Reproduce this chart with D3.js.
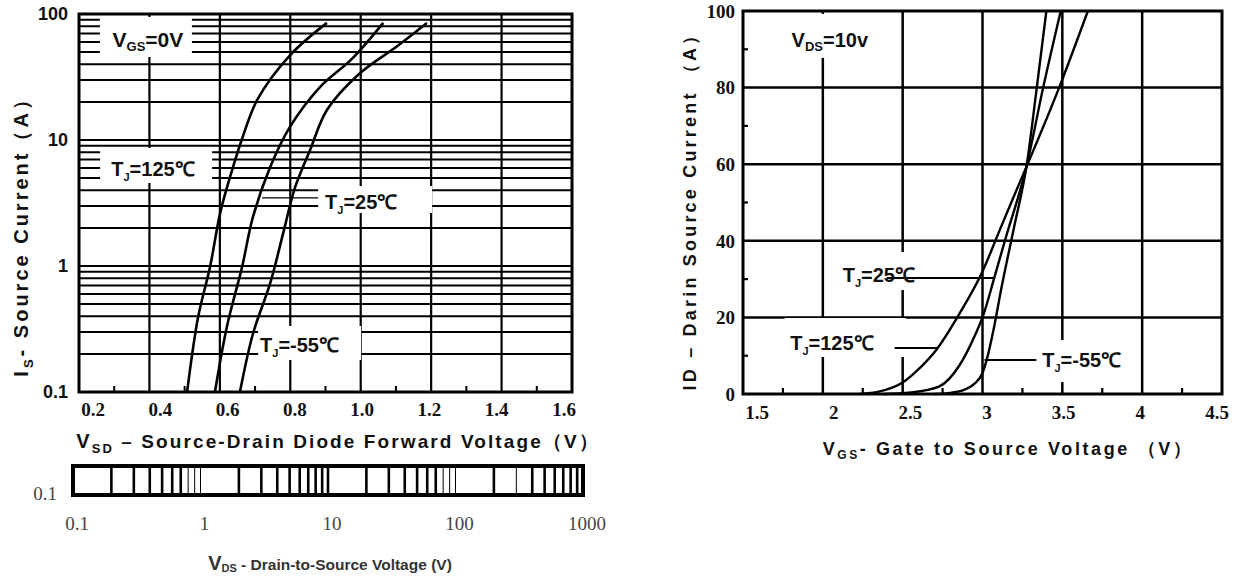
<!DOCTYPE html>
<html>
<head>
<meta charset="utf-8">
<script src="https://d3js.org/d3.v7.min.js"></script>
<style>
body { margin: 0; background: #fff; }
svg text { font-family: "Liberation Sans", Arial, sans-serif; font-weight: bold; fill: #111; }
svg text.serif { font-family: "Liberation Serif", "Times New Roman", serif; }
</style>
</head>
<body>
<script>
// ---------- data: left chart (Is vs Vsd, log) ----------
var vsdTicks = [0.2, 0.4, 0.6, 0.8, 1.0, 1.2, 1.4, 1.6];
var vsdTickLabels = ["0.2", "0.4", "0.6", "0.8", "1.0", "1.2", "1.4", "1.6"];
var vsdMinor = [0.3, 0.5, 0.7, 0.9, 1.1, 1.3, 1.5];
var isTicks = [0.1, 1, 10, 100];
var isTickLabels = ["0.1", "1", "10", "100"];
var is125 = [[0.507,0.1],[0.538,0.39],[0.572,0.98],[0.601,2.64],[0.635,5.8],[0.662,10],[0.706,20.8],[0.799,47],[0.904,85]];
var is25 = [[0.586,0.1],[0.620,0.33],[0.663,0.98],[0.694,2.45],[0.743,6.1],[0.799,12.7],[0.885,26.4],[0.975,44],[1.064,85]];
var isM55 = [[0.657,0.1],[0.694,0.29],[0.743,0.73],[0.780,1.83],[0.814,4.24],[0.856,8.3],[0.904,17.3],[0.993,33],[1.105,56],[1.188,85]];

// ---------- data: Vds strip (log) ----------
var vdsTicks = [0.1, 1, 10, 100, 1000];
var vdsTickLabels = ["0.1", "1", "10", "100", "1000"];
var vdsThin = [0.8, 0.9, 1, 80, 90, 100, 300];

// ---------- data: right chart (Id vs Vgs) ----------
var vgsTicks = [1.5, 2, 2.5, 3, 3.5, 4, 4.5];
var vgsTickLabels = ["1.5", "2", "2.5", "3", "3.5", "4", "4.5"];
var vgsMinor = [1.75, 2.25, 2.75, 3.25, 3.75, 4.25];
var idTicks = [0, 20, 40, 60, 80, 100];
var idMinor = [10, 30, 50, 70, 90];
var id125 = [[2.23,0],[2.35,0.6],[2.5,3],[2.6,6.5],[2.71,11.5],[2.856,21],[3.0,32],[3.1,42],[3.19,51],[3.275,59.3],[3.48,80],[3.66,100]];
var id25 = [[2.38,0],[2.55,0.4],[2.73,2],[2.856,7.5],[2.96,16],[3.0,20],[3.075,30.5],[3.14,40],[3.275,59.3],[3.38,80],[3.49,100]];
var idM55 = [[2.70,0],[2.8,0.3],[2.88,1],[2.95,2.7],[3.0,5.5],[3.03,9.5],[3.07,17],[3.12,28],[3.2,44],[3.275,59.3],[3.34,80],[3.40,100]];

var svg = d3.select("body").append("svg")
  .attr("width", 1245)
  .attr("height", 578);

// text with sub/normal parts: [text, size, dy]
function rich(sel, x, y, parts, anchor) {
  var t = sel.append("text").attr("x", x).attr("y", y)
    .attr("text-anchor", anchor || "start");
  parts.forEach(function (p) {
    var s = t.append("tspan").text(p[0]).style("font-size", p[1] + "px");
    if (p[2]) s.attr("dy", p[2]);
  });
  return t;
}
function tj(temp, big) {
  return [["T", big], ["J", 11, 5], ["=" + temp + "\u2103", big, -5]];
}

// ================= left chart =================
var x1 = d3.scaleLinear().domain([0.2, 1.6]).range([79, 572]);
var y1 = d3.scaleLog().domain([0.1, 100]).range([392, 14]);
var g1 = svg.append("g");

var logLines = [];
[0.1, 1, 10].forEach(function (d) {
  for (var k = 1; k <= 9; k++) logLines.push(d * k);
});
g1.selectAll(".hg").data(logLines).enter().append("line")
  .attr("x1", x1(0.2)).attr("x2", x1(1.6))
  .attr("y1", function (d) { return y1(d); })
  .attr("y2", function (d) { return y1(d); })
  .attr("stroke", "#000").attr("stroke-width", 2);
g1.selectAll(".vg").data(vsdTicks.slice(1, -1)).enter().append("line")
  .attr("x1", function (d) { return x1(d); })
  .attr("x2", function (d) { return x1(d); })
  .attr("y1", y1(100)).attr("y2", y1(0.1))
  .attr("stroke", "#000").attr("stroke-width", 2.2);
g1.selectAll(".mt").data(vsdMinor).enter().append("line")
  .attr("x1", function (d) { return x1(d); })
  .attr("x2", function (d) { return x1(d); })
  .attr("y1", y1(0.1)).attr("y2", y1(0.1) - 6)
  .attr("stroke", "#000").attr("stroke-width", 2);

// white label boxes over the grid
var boxes1 = [
  { v: 0.39, i: 65.7, w: 92, h: 40 },
  { v: 0.419, i: 6.28, w: 112, h: 35 },
  { v: 1.041, i: 3.37, w: 114, h: 27 },
  { v: 0.855, i: 0.245, w: 103, h: 34 }
];
g1.selectAll(".bx").data(boxes1).enter().append("rect")
  .attr("x", function (d) { return x1(d.v) - d.w / 2; })
  .attr("y", function (d) { return y1(d.i) - d.h / 2; })
  .attr("width", function (d) { return d.w; })
  .attr("height", function (d) { return d.h; })
  .attr("fill", "#fff");

g1.append("rect")
  .attr("x", x1(0.2)).attr("y", y1(100))
  .attr("width", x1(1.6) - x1(0.2)).attr("height", y1(0.1) - y1(100))
  .attr("fill", "none").attr("stroke", "#000").attr("stroke-width", 3);

var line1 = d3.line()
  .x(function (d) { return x1(d[0]); })
  .y(function (d) { return y1(d[1]); })
  .curve(d3.curveCatmullRom.alpha(0.5));
[is125, is25, isM55].forEach(function (c) {
  g1.append("path").datum(c).attr("d", line1)
    .attr("fill", "none").attr("stroke", "#000").attr("stroke-width", 2.6);
});

// leader for TJ=25
g1.append("line")
  .attr("x1", x1(0.72)).attr("x2", x1(0.879))
  .attr("y1", y1(3.47)).attr("y2", y1(3.47))
  .attr("stroke", "#000").attr("stroke-width", 1.3);

rich(g1, x1(0.39) + 2, y1(65.7) + 10, [["V", 21], ["GS", 13, 4], ["=0V", 21, -4]], "middle");
rich(g1, x1(0.41), y1(6.28) + 11, tj("125", 20), "middle");
rich(g1, x1(0.879) + 7, y1(3.37) + 9, tj("25", 20), "start");
rich(g1, x1(0.7) + 5, y1(0.245) + 9, tj("-55", 20), "start");

// axis labels
g1.selectAll(".yl").data(isTicks).enter().append("text")
  .attr("x", 68).attr("y", function (d) { return y1(d); })
  .attr("dy", "0.36em").attr("text-anchor", "end")
  .style("font-size", "18px")
  .text(function (d, i) { return isTickLabels[i]; });
var xLab1 = d3.scaleLinear().domain([0.2, 1.6]).range([93, 564]);
g1.selectAll(".xl").data(vsdTicks).enter().append("text")
  .attr("class", "serif")
  .attr("x", function (d) { return xLab1(d); })
  .attr("y", 416).attr("text-anchor", "middle")
  .style("font-size", "19px")
  .text(function (d, i) { return vsdTickLabels[i]; });

rich(g1, 338, 448, [["V", 20], ["SD", 13, 5], [" \u2013 Source-Drain Diode Forward Voltage", 19, -5], ["\uFF08V\uFF09", 19]], "middle")
  .style("letter-spacing", "2.1px");
rich(g1.append("g").attr("transform", "translate(28,232) rotate(-90)"), 0, 0,
  [["I", 21], ["S", 13, 5], ["- Source Current", 20, -5], ["\uFF08A\uFF09", 20]], "middle")
  .style("letter-spacing", "3px");

// ================= Vds strip =================
var xs = d3.scaleLog().domain([0.1, 1000]).range([73, 583]);
var gs = svg.append("g");
var stripLines = [];
[0.1, 1, 10, 100].forEach(function (d) {
  for (var k = 2; k <= 10; k++) stripLines.push(d * k);
});
stripLines = stripLines.filter(function (d) { return d < 1000; });
gs.selectAll(".sl").data(stripLines).enter().append("line")
  .attr("x1", function (d) { return xs(d); })
  .attr("x2", function (d) { return xs(d); })
  .attr("y1", 466).attr("y2", 495)
  .attr("stroke", "#000")
  .attr("stroke-width", function (d) {
    return vdsThin.some(function (t) { return Math.abs(t - d) < 1e-6; }) ? 1 : 2.6;
  });
gs.append("rect")
  .attr("x", xs(0.1)).attr("y", 466)
  .attr("width", xs(1000) - xs(0.1)).attr("height", 29)
  .attr("fill", "none").attr("stroke", "#000").attr("stroke-width", 4);
gs.append("text").attr("class", "serif")
  .attr("x", 45).attr("y", 500).attr("text-anchor", "middle")
  .style("font-size", "19px").style("font-weight", "normal").style("fill", "#444")
  .text("0.1");
gs.selectAll(".stl").data(vdsTicks).enter().append("text")
  .attr("class", "serif")
  .attr("x", function (d) { return xs(d) + 4; })
  .attr("y", 530).attr("text-anchor", "middle")
  .style("font-size", "19px").style("font-weight", "normal").style("fill", "#444")
  .text(function (d, i) { return vdsTickLabels[i]; });
rich(gs, 330, 570, [["V", 20], ["DS", 11, 2], [" - Drain-to-Source Voltage (V)", 15.5, -2]], "middle")
  .style("fill", "#333");

// ================= right chart =================
var x2 = d3.scaleLinear().domain([1.5, 4.5]).range([743, 1222]);
var y2 = d3.scaleLinear().domain([0, 100]).range([394, 11]);
var g2 = svg.append("g");

g2.selectAll(".hg").data(idTicks.slice(1, -1)).enter().append("line")
  .attr("x1", x2(1.5)).attr("x2", x2(4.5))
  .attr("y1", function (d) { return y2(d); })
  .attr("y2", function (d) { return y2(d); })
  .attr("stroke", "#000").attr("stroke-width", 2.5);
g2.selectAll(".vg").data(vgsTicks.slice(1, -1)).enter().append("line")
  .attr("x1", function (d) { return x2(d); })
  .attr("x2", function (d) { return x2(d); })
  .attr("y1", y2(100)).attr("y2", y2(0))
  .attr("stroke", "#000").attr("stroke-width", 2.5);
g2.selectAll(".mx").data(vgsMinor).enter().append("line")
  .attr("x1", function (d) { return x2(d); })
  .attr("x2", function (d) { return x2(d); })
  .attr("y1", y2(0)).attr("y2", y2(0) - 6)
  .attr("stroke", "#000").attr("stroke-width", 2.2);
g2.selectAll(".my").data(idMinor).enter().append("line")
  .attr("x1", x2(1.5)).attr("x2", x2(1.5) + 5)
  .attr("y1", function (d) { return y2(d); })
  .attr("y2", function (d) { return y2(d); })
  .attr("stroke", "#000").attr("stroke-width", 2.2);

var boxes2 = [
  { v: 2.044, i: 93.5, w: 100, h: 44 },
  { v: 2.381, i: 32.1, w: 92, h: 38 },
  { v: 2.14, i: 14.75, w: 121, h: 39 },
  { v: 3.6625, i: 8.6, w: 102, h: 42 }
];
g2.selectAll(".bx").data(boxes2).enter().append("rect")
  .attr("x", function (d) { return x2(d.v) - d.w / 2; })
  .attr("y", function (d) { return y2(d.i) - d.h / 2; })
  .attr("width", function (d) { return d.w; })
  .attr("height", function (d) { return d.h; })
  .attr("fill", "#fff");

g2.append("rect")
  .attr("x", x2(1.5)).attr("y", y2(100))
  .attr("width", x2(4.5) - x2(1.5)).attr("height", y2(0) - y2(100))
  .attr("fill", "none").attr("stroke", "#000").attr("stroke-width", 3);

var line2 = d3.line()
  .x(function (d) { return x2(d[0]); })
  .y(function (d) { return y2(d[1]); })
  .curve(d3.curveMonotoneX);
[id125, id25, idM55].forEach(function (c) {
  g2.append("path").datum(c).attr("d", line2)
    .attr("fill", "none").attr("stroke", "#000").attr("stroke-width", 2.4);
});

// leaders
var leaders2 = [
  { a: 2.4, b: 3.075, i: 30.3 },
  { a: 2.45, b: 2.72, i: 12.0 },
  { a: 3.0125, b: 3.3375, i: 8.9 }
];
g2.selectAll(".ld").data(leaders2).enter().append("line")
  .attr("x1", function (d) { return x2(d.a); })
  .attr("x2", function (d) { return x2(d.b); })
  .attr("y1", function (d) { return y2(d.i); })
  .attr("y2", function (d) { return y2(d.i); })
  .attr("stroke", "#000").attr("stroke-width", 2);

rich(g2, x2(2.044), y2(93.5) + 11, [["V", 20], ["DS", 13, 4], ["=10v", 20, -4]], "middle");
rich(g2, x2(2.381) - 41, y2(32.1) + 11, tj("25", 20), "start");
rich(g2, x2(2.14) - 55, y2(14.75) + 12, tj("125", 20), "start");
rich(g2, x2(3.6625) - 46, y2(8.6) + 6, tj("-55", 20), "start");

g2.selectAll(".yl").data(idTicks).enter().append("text")
  .attr("class", "serif")
  .attr("x", 735).attr("y", function (d) { return y2(d); })
  .attr("dy", "0.36em").attr("text-anchor", "end")
  .style("font-size", "19px")
  .text(function (d) { return d; });
var xLab2 = d3.scaleLinear().domain([1.5, 4.5]).range([757, 1217]);
g2.selectAll(".xl").data(vgsTicks).enter().append("text")
  .attr("class", "serif")
  .attr("x", function (d) { return xLab2(d); })
  .attr("y", 419).attr("text-anchor", "middle")
  .style("font-size", "19px")
  .text(function (d, i) { return vgsTickLabels[i]; });

rich(g2, 1008, 455, [["V", 18], ["GS", 12, 4], ["- Gate to Source Voltage  ", 18, -4], ["\uFF08V\uFF09", 18]], "middle")
  .style("letter-spacing", "2.6px");
rich(g2.append("g").attr("transform", "translate(696,207) rotate(-90)"), 0, 0,
  [["ID \u2013 Darin Source Current  \uFF08A\uFF09", 18]], "middle")
  .style("letter-spacing", "3.2px");
</script>
</body>
</html>
